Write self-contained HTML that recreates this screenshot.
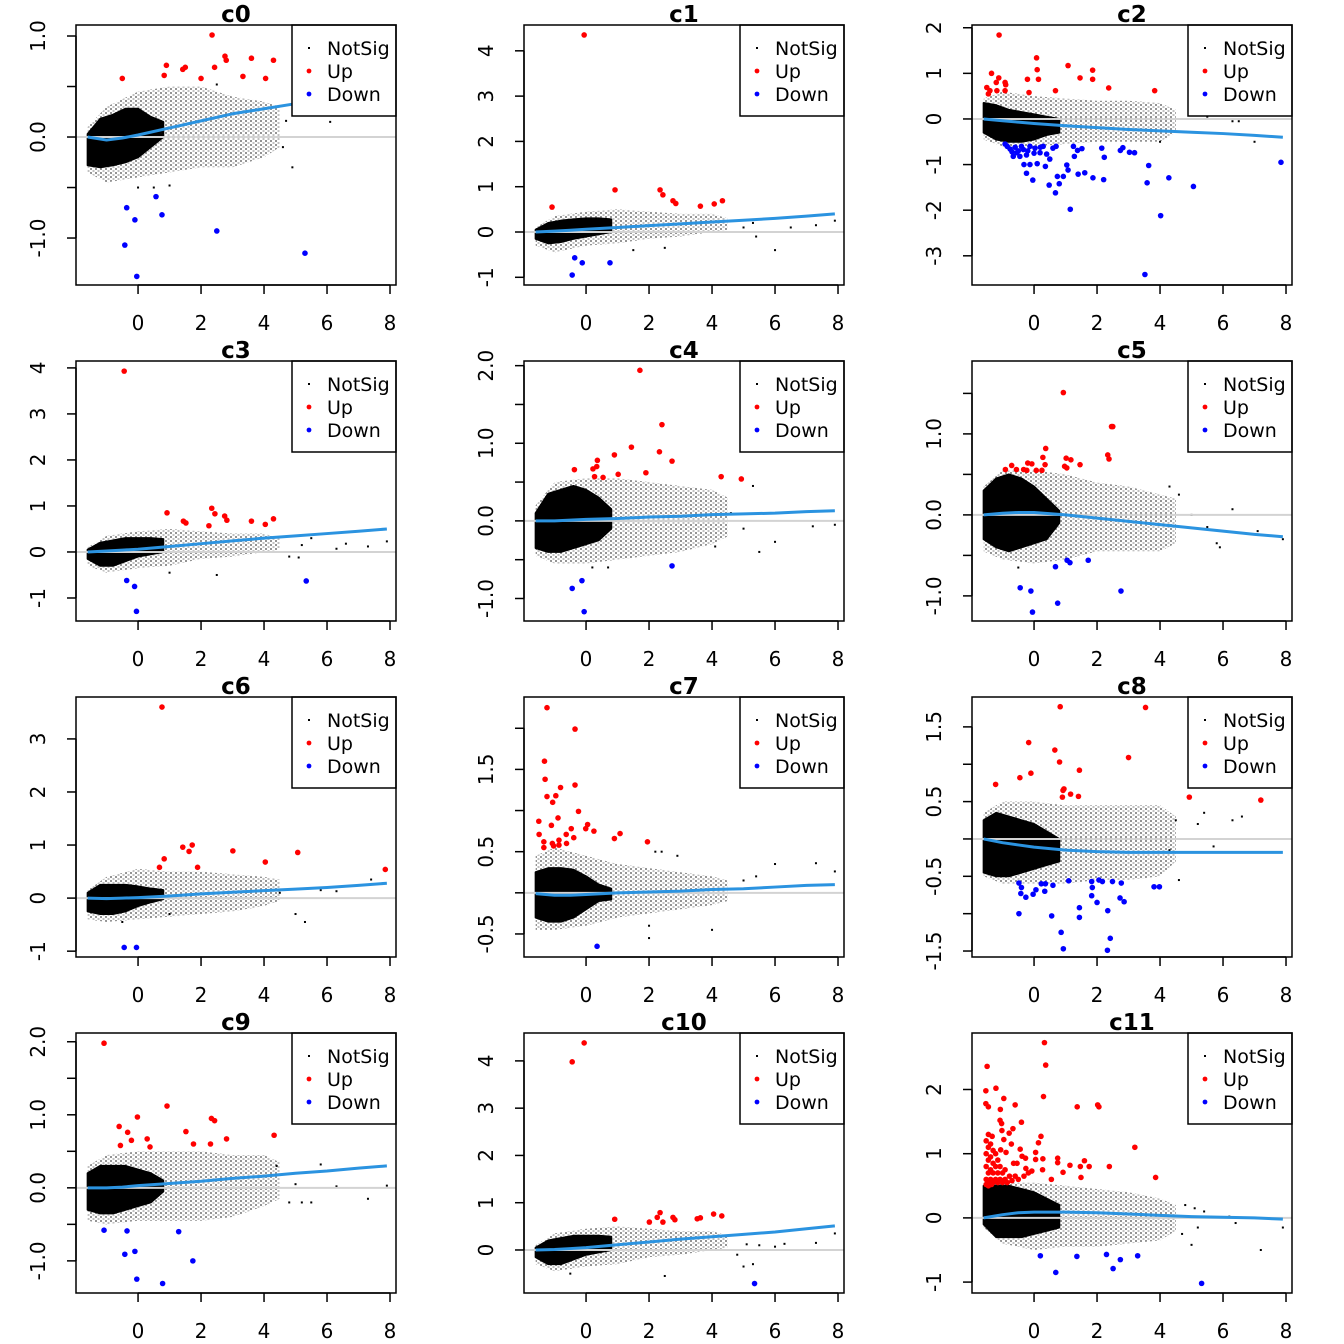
<!DOCTYPE html>
<html><head><meta charset="utf-8"><style>
html,body{margin:0;padding:0;background:#fff;}
svg{display:block;font-family:"DejaVu Sans","Liberation Sans",sans-serif;}
</style></head><body>
<svg id="chart" width="1344" height="1344" viewBox="0 0 1344 1344" xmlns="http://www.w3.org/2000/svg">
<defs>
<pattern id="stip" width="5" height="4" patternUnits="userSpaceOnUse"><rect x="0" y="0" width="2" height="2" fill="#000"/><rect x="2.5" y="2" width="2" height="2" fill="#000" opacity="0.6"/></pattern>
</defs>
</svg>
<script>
const panelNames = ["c0","c1","c2","c3","c4","c5","c6","c7","c8","c9","c10","c11"];
const xTicks = [0,2,4,6,8];
const yLimits = [[-1.465,1.109],[-1.17,4.57],[-3.64,2.06],[-1.5,4.15],[-1.29,2.06],[-1.31,1.90],[-1.11,3.79],[-0.78,2.38],[-1.58,1.90],[-1.44,2.12],[-0.91,4.59],[-1.17,2.88]];
const yTickVals = [[-1,-0.5,0,0.5,1],[-1,0,1,2,3,4],[-3,-2,-1,0,1,2],[-1,0,1,2,3,4],[-1,-0.5,0,0.5,1,1.5,2],[-1,-0.5,0,0.5,1,1.5],[-1,0,1,2,3],[-0.5,0,0.5,1,1.5,2],[-1.5,-1,-0.5,0,0.5,1,1.5],[-1,-0.5,0,0.5,1,1.5,2],[0,1,2,3,4],[-1,0,1,2]];
const yTickLabels = [["-1.0","","0.0","","1.0"],["-1","0","1","2","3","4"],["-3","-2","-1","0","1","2"],["-1","0","1","2","3","4"],["-1.0","","0.0","","1.0","","2.0"],["-1.0","","0.0","","1.0",""],["-1","0","1","2","3"],["-0.5","","0.5","","1.5",""],["-1.5","","-0.5","","0.5","","1.5"],["-1.0","","0.0","","1.0","","2.0"],["0","1","2","3","4"],["-1","0","1","2"]];
const coreX = [-1.6,-1.2,-0.8,-0.4,0,0.4,0.8];
const coreHi = [[0.03,0.18,0.22,0.28,0.28,0.2,0.15],[0.05,0.2,0.25,0.28,0.3,0.3,0.28],[0.35,0.3,0.2,0.15,0.1,0.05,0.0],[0.05,0.2,0.25,0.3,0.3,0.3,0.28],[0.1,0.35,0.4,0.45,0.4,0.3,0.15],[0.3,0.45,0.5,0.45,0.35,0.2,0.05],[0.1,0.25,0.25,0.25,0.22,0.18,0.15],[0.25,0.3,0.3,0.28,0.2,0.1,0.05],[0.25,0.35,0.3,0.25,0.2,0.1,0.0],[0.2,0.3,0.3,0.3,0.25,0.2,0.1],[0.05,0.2,0.25,0.3,0.3,0.3,0.28],[0.5,0.5,0.5,0.45,0.4,0.3,0.2]];
const coreLo = [[-0.28,-0.3,-0.28,-0.25,-0.2,-0.1,0.0],[-0.15,-0.25,-0.22,-0.15,-0.1,-0.05,0.0],[-0.3,-0.45,-0.5,-0.5,-0.45,-0.35,-0.3],[-0.15,-0.3,-0.3,-0.2,-0.1,-0.05,0.0],[-0.35,-0.4,-0.4,-0.35,-0.3,-0.25,-0.1],[-0.3,-0.4,-0.45,-0.4,-0.35,-0.3,-0.1],[-0.25,-0.3,-0.3,-0.25,-0.15,-0.08,-0.02],[-0.3,-0.35,-0.35,-0.3,-0.2,-0.1,-0.08],[-0.45,-0.5,-0.5,-0.45,-0.4,-0.35,-0.3],[-0.3,-0.35,-0.35,-0.3,-0.25,-0.2,-0.05],[-0.15,-0.3,-0.3,-0.2,-0.1,-0.05,0.0],[-0.1,-0.3,-0.3,-0.3,-0.25,-0.2,-0.15]];
const haloX = [-1.6,-1,0,1,2,3,4,4.5];
const haloHi = [[0.1,0.3,0.45,0.5,0.5,0.4,0.35,0.3],[0.1,0.35,0.45,0.5,0.45,0.4,0.4,0.3],[0.45,0.6,0.5,0.45,0.4,0.4,0.35,0.2],[0.1,0.35,0.45,0.5,0.45,0.4,0.4,0.3],[0.2,0.5,0.55,0.55,0.5,0.45,0.4,0.3],[0.35,0.55,0.55,0.5,0.4,0.35,0.25,0.2],[0.15,0.4,0.55,0.5,0.5,0.45,0.4,0.35],[0.45,0.55,0.45,0.35,0.3,0.25,0.2,0.15],[0.35,0.5,0.5,0.45,0.45,0.45,0.45,0.3],[0.3,0.45,0.5,0.5,0.5,0.45,0.45,0.35],[0.1,0.35,0.45,0.5,0.45,0.4,0.4,0.3],[0.55,0.55,0.55,0.5,0.45,0.4,0.3,0.2]];
const haloLo = [[-0.35,-0.45,-0.4,-0.35,-0.3,-0.3,-0.2,-0.1],[-0.3,-0.45,-0.3,-0.25,-0.15,-0.1,0.0,0.05],[-0.45,-0.6,-0.6,-0.55,-0.5,-0.5,-0.5,-0.3],[-0.3,-0.45,-0.35,-0.3,-0.15,-0.1,0.0,0.05],[-0.45,-0.55,-0.55,-0.5,-0.45,-0.4,-0.3,-0.2],[-0.45,-0.55,-0.6,-0.55,-0.45,-0.45,-0.45,-0.35],[-0.4,-0.45,-0.4,-0.35,-0.3,-0.25,-0.15,-0.05],[-0.45,-0.45,-0.4,-0.3,-0.25,-0.2,-0.15,-0.1],[-0.5,-0.6,-0.6,-0.6,-0.55,-0.55,-0.5,-0.3],[-0.45,-0.5,-0.45,-0.45,-0.45,-0.4,-0.25,-0.15],[-0.3,-0.45,-0.35,-0.3,-0.15,-0.1,0.0,0.05],[-0.15,-0.4,-0.5,-0.45,-0.45,-0.4,-0.35,-0.2]];
const outlierPts = [
[[4.6,-0.1],[4.9,-0.3],[6.1,0.15],[4.7,0.16],[0.0,-0.5],[0.5,-0.5],[1.0,-0.48],[2.5,0.52]],
[[5.0,0.1],[5.3,0.2],[5.4,-0.1],[6.0,-0.4],[6.5,0.1],[7.3,0.15],[7.9,0.25],[1.5,-0.4],[2.5,-0.35]],
[[5.5,0.05],[6.3,-0.05],[6.5,-0.05],[7.0,-0.5],[5.2,0.15],[4.0,-0.5]],
[[4.8,-0.1],[5.1,-0.12],[5.2,0.15],[5.5,0.3],[6.3,0.07],[6.6,0.18],[7.3,0.12],[7.9,0.23],[2.5,-0.5],[1.0,-0.45]],
[[4.6,0.1],[5.0,-0.1],[5.3,0.45],[5.5,-0.4],[6.0,-0.27],[7.2,-0.07],[7.9,-0.05],[4.1,-0.33],[0.2,-0.6],[0.7,-0.6]],
[[5.0,0.0],[5.5,-0.15],[5.8,-0.35],[5.9,-0.4],[6.3,0.07],[7.1,-0.2],[7.9,-0.3],[4.3,0.35],[4.6,0.25],[-0.5,-0.65]],
[[4.5,0.1],[5.0,-0.3],[5.3,-0.45],[5.8,0.15],[6.3,0.13],[7.4,0.35],[1.0,-0.3],[-0.5,-0.45]],
[[2.0,-0.4],[2.0,-0.55],[2.2,0.5],[2.4,0.5],[2.9,0.45],[4.0,-0.45],[6.0,0.35],[7.3,0.36],[7.9,0.26],[5.0,0.15],[5.4,0.2]],
[[4.5,0.25],[5.2,0.2],[5.4,0.35],[5.7,-0.1],[6.3,0.25],[6.6,0.3],[4.6,-0.55],[4.3,-0.15]],
[[4.4,0.3],[4.8,-0.2],[5.0,0.05],[5.2,-0.2],[5.8,0.32],[6.3,0.02],[7.3,-0.15],[7.9,0.03],[5.5,-0.2]],
[[4.8,-0.1],[5.0,-0.35],[5.1,0.12],[5.3,-0.3],[5.5,0.1],[6.0,0.07],[6.3,0.13],[7.3,0.15],[7.9,0.35],[2.5,-0.55],[-0.5,-0.5]],
[[4.8,0.2],[5.1,0.15],[5.4,0.1],[4.7,-0.25],[5.0,-0.42],[5.2,-0.15],[6.2,0.02],[6.4,-0.08],[7.2,-0.5],[7.9,-0.15]]
];
const upPoints = [
[[-0.5,0.58],[0.9,0.71],[0.83,0.61],[1.42,0.67],[1.5,0.69],[2.0,0.58],[2.35,1.01],[2.43,0.69],[2.76,0.8],[2.8,0.76],[3.33,0.6],[3.6,0.78],[4.05,0.58],[4.3,0.76]],
[[-0.06,4.35],[-1.08,0.55],[0.92,0.93],[2.35,0.93],[2.44,0.82],[2.76,0.69],[2.85,0.63],[3.63,0.57],[4.07,0.62],[4.33,0.69]],
[[-1.11,1.84],[-1.35,1.0],[-1.12,0.9],[-1.2,0.8],[-1.5,0.69],[-1.4,0.62],[-1.45,0.55],[-1.18,0.62],[-0.92,0.8],[-0.9,0.75],[-0.92,0.62],[-0.21,0.87],[-0.16,0.58],[0.08,1.34],[0.1,1.08],[0.14,0.87],[0.68,0.62],[1.08,1.17],[1.46,0.9],[1.86,1.07],[1.86,0.87],[2.37,0.68],[3.83,0.62]],
[[-0.44,3.93],[0.92,0.85],[1.44,0.67],[1.52,0.63],[2.25,0.57],[2.34,0.95],[2.44,0.83],[2.75,0.78],[2.82,0.69],[3.6,0.67],[4.04,0.6],[4.3,0.72]],
[[1.71,1.94],[2.41,1.24],[1.44,0.95],[2.33,0.89],[0.9,0.85],[0.36,0.78],[0.34,0.7],[0.22,0.67],[-0.37,0.66],[0.27,0.57],[0.54,0.56],[1.02,0.6],[1.9,0.62],[2.73,0.77],[4.29,0.57],[4.93,0.54]],
[[0.93,1.51],[2.46,1.09],[2.5,1.09],[0.37,0.82],[0.28,0.71],[1.02,0.7],[1.17,0.68],[2.34,0.74],[2.38,0.69],[1.46,0.62],[0.97,0.6],[1.04,0.58],[-0.2,0.64],[-0.07,0.63],[-0.71,0.61],[-0.91,0.56],[-0.56,0.56],[-0.33,0.56],[-0.23,0.55],[0.07,0.55],[0.25,0.55],[0.35,0.62]],
[[0.76,3.6],[0.68,0.58],[0.83,0.74],[1.42,0.96],[1.62,0.88],[1.72,1.0],[1.89,0.58],[3.01,0.89],[4.04,0.68],[5.07,0.86],[7.85,0.54]],
[[-1.24,2.25],[-0.35,1.99],[-1.32,1.6],[-1.3,1.38],[-1.24,1.17],[-0.96,1.18],[-1.06,1.1],[-0.81,1.28],[-0.35,1.31],[-0.24,0.99],[-1.5,0.87],[-0.89,0.91],[-1.1,0.82],[-1.49,0.71],[-1.34,0.62],[-1.07,0.6],[-1.03,0.57],[-0.86,0.64],[-0.86,0.58],[-0.63,0.71],[-0.62,0.6],[-0.47,0.78],[-0.39,0.67],[-0.01,0.78],[0.05,0.83],[0.25,0.75],[0.9,0.66],[1.08,0.72],[1.95,0.62],[-1.34,0.55]],
[[0.83,1.77],[3.54,1.76],[-0.17,1.29],[0.66,1.19],[0.81,1.03],[3.0,1.09],[-0.1,0.88],[1.44,0.92],[-0.45,0.82],[-1.22,0.73],[0.92,0.65],[0.95,0.67],[1.16,0.6],[1.41,0.57],[0.9,0.56],[4.93,0.56],[7.2,0.52]],
[[-1.08,1.98],[0.92,1.12],[-0.02,0.97],[2.33,0.95],[2.43,0.92],[-0.6,0.84],[-0.33,0.76],[-0.21,0.65],[-0.56,0.58],[0.29,0.67],[0.38,0.56],[1.52,0.77],[1.76,0.6],[2.3,0.6],[2.81,0.67],[4.32,0.72]],
[[-0.44,3.98],[-0.06,4.38],[0.91,0.65],[2.01,0.59],[2.26,0.69],[2.35,0.79],[2.44,0.59],[2.76,0.69],[2.82,0.64],[3.53,0.66],[3.63,0.68],[4.05,0.76],[4.31,0.72]],
[[0.33,2.73],[0.37,2.38],[-1.49,2.36],[-1.53,1.98],[-1.21,2.02],[-0.96,1.86],[0.3,1.89],[-0.6,1.76],[-1.53,1.78],[-1.45,1.73],[-1.07,1.69],[-0.4,1.49],[-1.08,1.52],[-1.03,1.47],[-0.67,1.39],[-1.02,1.36],[-0.79,1.32],[0.22,1.27],[-1.33,1.27],[-0.96,1.22],[0.14,1.17],[-0.72,1.15],[-0.44,1.07],[-1.06,1.06],[-0.89,1.02],[0.05,1.02],[-0.38,0.96],[-0.27,0.93],[0.28,0.92],[0.05,0.91],[-0.54,0.85],[-0.65,0.85],[0.75,0.93],[0.75,0.86],[1.14,0.82],[1.47,0.8],[1.6,0.89],[1.75,0.8],[2.39,0.8],[0.92,0.71],[0.27,0.75],[-0.26,0.77],[-0.18,0.7],[-0.07,0.73],[-0.32,0.65],[0.55,0.6],[1.49,0.63],[3.2,1.1],[2.02,1.76],[2.06,1.73],[1.37,1.73],[3.86,0.63],
 [-1.52,0.6],[-1.52,0.8],[-1.52,1.0],[-1.52,1.2],[-1.45,0.55],[-1.45,0.7],[-1.45,0.9],[-1.45,1.1],[-1.45,1.3],[-1.38,0.6],[-1.38,0.75],[-1.38,0.95],[-1.38,1.15],[-1.3,0.55],[-1.3,0.7],[-1.3,0.85],[-1.3,1.05],[-1.22,0.6],[-1.22,0.8],[-1.22,1.0],[-1.15,0.55],[-1.15,0.7],[-1.15,0.9],[-1.08,0.6],[-1.08,0.8],[-1.0,0.55],[-1.0,0.7],[-0.92,0.6],[-0.92,0.75],[-0.85,0.55],[-0.78,0.65],[-0.7,0.58],[-0.6,0.65],[-0.5,0.6],[-1.52,0.52],[-1.45,0.5],[-1.35,0.52]]
];
const downPoints = [
[[-0.36,-0.7],[-0.1,-0.82],[0.57,-0.59],[0.76,-0.77],[-0.42,-1.07],[-0.04,-1.38],[2.5,-0.93],[5.3,-1.15]],
[[-0.44,-0.95],[-0.36,-0.57],[-0.12,-0.68],[0.76,-0.68]],
[[-0.92,-0.55],[-0.76,-0.66],[-0.55,-0.74],[-0.34,-0.67],[-0.13,-0.6],[-0.66,-0.82],[-0.45,-0.82],[-0.24,-0.79],[0.03,-0.64],[0.19,-0.74],[0.29,-0.6],[0.4,-0.77],[0.5,-0.88],[0.6,-0.64],[0.7,-0.6],[-0.32,-1.0],[-0.13,-1.0],[0.1,-0.98],[-0.24,-1.19],[-0.04,-1.34],[0.36,-1.04],[0.48,-1.45],[0.68,-1.62],[0.74,-1.26],[0.8,-1.42],[0.93,-1.26],[1.04,-1.01],[1.08,-1.12],[1.25,-0.6],[1.28,-0.82],[1.38,-0.69],[1.52,-0.65],[1.15,-1.98],[1.4,-1.21],[1.61,-1.18],[1.87,-1.29],[2.15,-0.64],[2.21,-1.33],[2.23,-0.84],[2.74,-0.69],[2.82,-0.63],[3.03,-0.73],[3.19,-0.74],[3.52,-3.41],[3.59,-1.4],[3.64,-1.02],[4.02,-2.12],[4.28,-1.29],[5.06,-1.48],[7.84,-0.95],[-0.85,-0.6],[-0.6,-0.62],[-0.4,-0.6],[-0.2,-0.7],[0.0,-0.75],[0.2,-0.62],[-0.5,-0.7],[-0.7,-0.72]],
[[-0.36,-0.62],[-0.11,-0.75],[-0.05,-1.29],[5.34,-0.63]],
[[-0.44,-0.87],[-0.13,-0.77],[-0.06,-1.17],[2.73,-0.58]],
[[-0.44,-0.9],[-0.1,-0.94],[-0.05,-1.2],[0.68,-0.64],[1.05,-0.56],[1.14,-0.59],[1.72,-0.56],[0.75,-1.09],[2.76,-0.94]],
[[-0.44,-0.93],[-0.05,-0.93]],
[[0.35,-0.65]],
[[-0.48,-0.59],[-0.4,-0.65],[-0.42,-0.73],[-0.26,-0.78],[-0.03,-0.74],[0.06,-0.68],[0.23,-0.6],[0.36,-0.6],[0.34,-0.7],[0.6,-0.62],[1.1,-0.56],[1.83,-0.57],[1.85,-0.65],[2.06,-0.55],[2.17,-0.57],[2.49,-0.57],[2.77,-0.59],[1.83,-0.76],[2.0,-0.85],[2.73,-0.79],[2.86,-0.84],[3.81,-0.64],[3.98,-0.64],[-0.48,-1.0],[0.56,-1.03],[1.44,-0.92],[1.44,-1.05],[2.34,-0.96],[0.86,-1.25],[2.42,-1.33],[0.93,-1.47],[2.33,-1.49]],
[[-1.08,-0.58],[-0.35,-0.59],[-0.42,-0.91],[-0.1,-0.87],[1.29,-0.6],[1.74,-1.0],[-0.04,-1.25],[0.78,-1.31]],
[[5.35,-0.71]],
[[0.2,-0.59],[1.36,-0.6],[2.3,-0.57],[2.74,-0.65],[3.29,-0.59],[2.51,-0.79],[0.69,-0.85],[5.32,-1.02]]
];
const loessX = [-1.6,-1,-0.5,0,1,2,3,4,5,6,7,7.9];
const loessY = [
[0,-0.03,-0.01,0.02,0.09,0.16,0.23,0.28,0.33,0.38,0.43,0.48],
[0,0.02,0.04,0.06,0.1,0.14,0.18,0.22,0.26,0.3,0.35,0.4],
[0,-0.04,-0.07,-0.1,-0.15,-0.19,-0.23,-0.26,-0.29,-0.32,-0.36,-0.4],
[0,0.02,0.04,0.06,0.12,0.18,0.24,0.3,0.35,0.4,0.45,0.5],
[0,0,0.01,0.02,0.03,0.05,0.06,0.08,0.09,0.1,0.12,0.13],
[0,0.02,0.03,0.03,0.0,-0.04,-0.08,-0.12,-0.16,-0.2,-0.24,-0.27],
[0,-0.01,0,0.01,0.04,0.08,0.11,0.14,0.17,0.2,0.24,0.28],
[-0.01,-0.03,-0.03,-0.02,0,0.01,0.02,0.04,0.05,0.07,0.09,0.1],
[0,-0.05,-0.08,-0.11,-0.15,-0.17,-0.18,-0.18,-0.18,-0.18,-0.18,-0.18],
[0,0.0,0.01,0.03,0.06,0.09,0.13,0.16,0.2,0.23,0.27,0.3],
[0,0.01,0.03,0.05,0.11,0.17,0.23,0.28,0.33,0.38,0.45,0.51],
[0,0.05,0.08,0.09,0.09,0.08,0.06,0.04,0.02,0.01,0,-0.02]
];

const NS = "http://www.w3.org/2000/svg";
const svg = document.getElementById("chart");
const X0 = -1.97, X1 = 8.19, PW = 320, PH = 260;
function mk(tag, attrs, parent){
  const e = document.createElementNS(NS, tag);
  for (const k in attrs) e.setAttribute(k, attrs[k]);
  parent.appendChild(e); return e;
}
panelNames.forEach((name, i) => {
  const col = i % 3, row = Math.floor(i / 3);
  const L = 76 + col * 448, T = 25 + row * 336, R = L + PW, B = T + PH;
  const [ymin, ymax] = yLimits[i];
  const sx = v => L + (v - X0) / (X1 - X0) * PW;
  const sy = v => B - (v - ymin) / (ymax - ymin) * PH;
  const g = mk("g", {}, svg);
  
  
  const cp = mk("clipPath", {id: "clip" + i}, g);
  mk("rect", {x: L, y: T, width: PW, height: PH}, cp);
  const plot = mk("g", {"clip-path": "url(#clip" + i + ")"}, g);
  
  
  let pts = haloX.map((x, k) => sx(x) + "," + sy(haloHi[i][k]));
  pts = pts.concat(haloX.slice().reverse().map((x, k) => sx(x) + "," + sy(haloLo[i][haloX.length - 1 - k])));
  const halo = mk("polygon", {points: pts.join(" "), fill: "url(#stip)", opacity: "0.42"}, plot);
  
  
  pts = coreX.map((x, k) => sx(x) + "," + sy(coreHi[i][k]));
  pts = pts.concat(coreX.slice().reverse().map((x, k) => sx(x) + "," + sy(coreLo[i][coreX.length - 1 - k])));
  const core = mk("polygon", {points: pts.join(" "), fill: "#000", "stroke": "#000", "stroke-width": 2, "stroke-linejoin": "round"}, plot);
  
  
  outlierPts[i].forEach(p => {
    const d = mk("rect", {x: sx(p[0]) - 1, y: sy(p[1]) - 1, width: 2, height: 2, fill: "#000"}, plot);
    
    
  });
  const zl = mk("line", {x1: L, x2: R, y1: sy(0), y2: sy(0), stroke: "#d3d3d3", "stroke-width": 2}, plot);
  
  
  const lp = loessX.map((x, k) => sx(x) + "," + sy(loessY[i][k])).join(" ");
  const lo = mk("polyline", {points: lp, fill: "none", stroke: "#2b93e0", "stroke-width": 3, "stroke-linejoin": "round"}, plot);
  
  
  upPoints[i].forEach(p => {
    const c = mk("circle", {cx: sx(p[0]), cy: sy(p[1]), r: 2.8, fill: "#ff0000"}, plot);
    
    
  });
  downPoints[i].forEach(p => {
    const c = mk("circle", {cx: sx(p[0]), cy: sy(p[1]), r: 2.8, fill: "#0000ff"}, plot);
    
    
  });
  const lg = mk("g", {}, g);
  
  
  mk("rect", {x: R - 104, y: T, width: 104, height: 91, fill: "#fff", stroke: "#000", "stroke-width": 1.5}, lg);
  [["NotSig", "#000", 1], ["Up", "#ff0000", 2.4], ["Down", "#0000ff", 2.4]].forEach((e, k) => {
    const cy = T + 23 + k * 23;
    const ent = mk("g", {}, lg);
    
    
    if (e[2] === 1) mk("rect", {x: R - 88, y: cy - 1, width: 2, height: 2, fill: e[1]}, ent);
    else mk("circle", {cx: R - 87, cy: cy, r: e[2], fill: e[1]}, ent);
    const t = mk("text", {x: R - 69, y: cy + 7, "font-size": 19, fill: "#000"}, ent);
    t.textContent = e[0];
  });
  const bx = mk("rect", {x: L, y: T, width: PW, height: PH, fill: "none", stroke: "#000", "stroke-width": 1.5}, g);
  
  
  const tt = mk("text", {x: L + PW / 2, y: T - 3, "font-size": 23, "font-weight": "bold", "text-anchor": "middle"}, g);
  tt.textContent = name;
  
  
  const xa = mk("g", {}, g);
  
  
  mk("line", {x1: sx(xTicks[0]), x2: sx(xTicks[xTicks.length - 1]), y1: B, y2: B, stroke: "#000", "stroke-width": 1.5}, xa);
  xTicks.forEach(v => {
    mk("line", {x1: sx(v), x2: sx(v), y1: B, y2: B + 9, stroke: "#000", "stroke-width": 1.5}, xa);
    const t = mk("text", {x: sx(v), y: B + 45, "font-size": 20, "text-anchor": "middle"}, xa);
    t.textContent = String(v);
  });
  const ya = mk("g", {}, g);
  
  
  const tv = yTickVals[i];
  mk("line", {x1: L, x2: L, y1: sy(tv[0]), y2: sy(tv[tv.length - 1]), stroke: "#000", "stroke-width": 1.5}, ya);
  tv.forEach((v, k) => {
    mk("line", {x1: L - 9, x2: L, y1: sy(v), y2: sy(v), stroke: "#000", "stroke-width": 1.5}, ya);
    const lab = yTickLabels[i][k];
    if (lab) {
      const t = mk("text", {x: 0, y: 0, "font-size": 20, "text-anchor": "middle", transform: "translate(" + (L - 31) + "," + sy(v) + ") rotate(-90)"}, ya);
      t.textContent = lab;
    }
  });
});
</script>
</body></html>
